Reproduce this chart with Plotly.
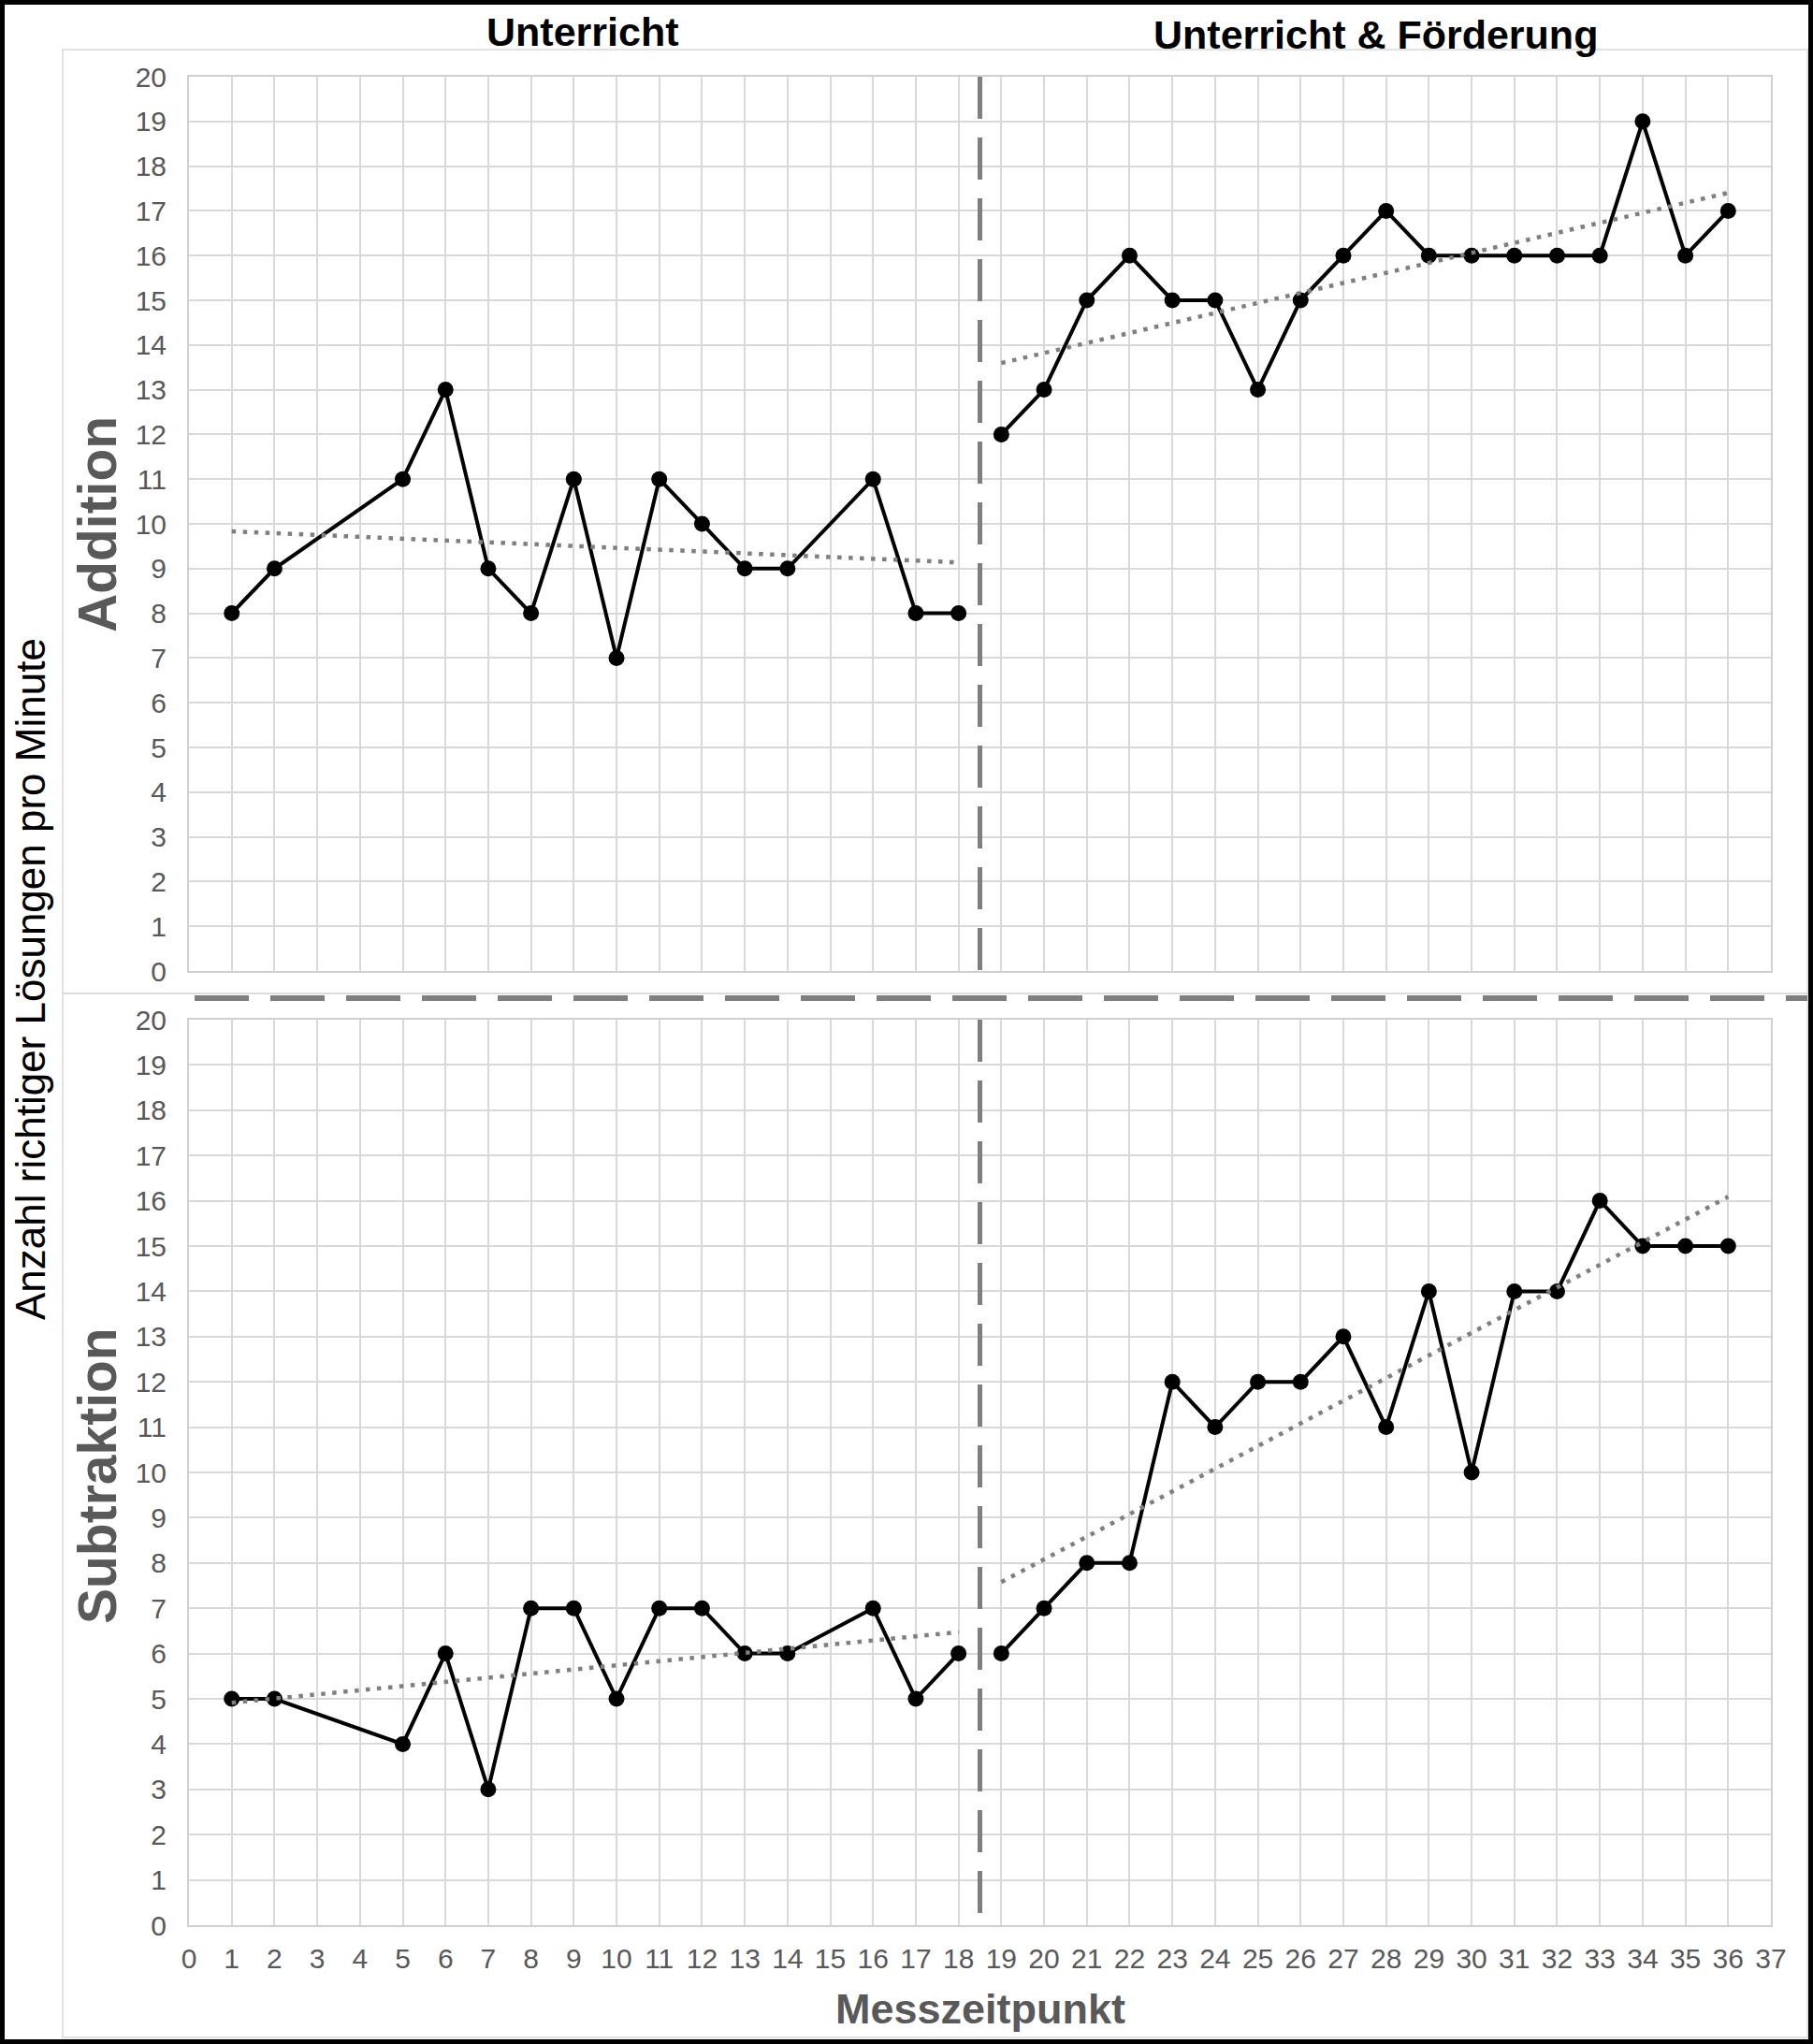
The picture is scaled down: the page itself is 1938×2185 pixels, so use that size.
import numpy as np
import plotly.graph_objects as go

W, H = 1938, 2185

# ---- data ----
phase1_x = [1, 2, 5, 6, 7, 8, 9, 10, 11, 12, 13, 14, 16, 17, 18]
phase2_x = [19, 20, 21, 22, 23, 24, 25, 26, 27, 28, 29, 30, 31, 32, 33, 34, 35, 36]

add_phase1 = [8, 9, 11, 13, 9, 8, 11, 7, 11, 10, 9, 9, 11, 8, 8]
add_phase2 = [12, 13, 15, 16, 15, 15, 13, 15, 16, 17, 16, 16, 16, 16, 16, 19, 16, 17]

sub_phase1 = [5, 5, 4, 6, 3, 7, 7, 5, 7, 7, 6, 6, 7, 5, 6]
sub_phase2 = [6, 7, 8, 8, 12, 11, 12, 12, 13, 11, 14, 10, 14, 14, 16, 15, 15, 15]

x_ticks = list(range(0, 38))
y_ticks = list(range(0, 21))
phase_titles = ["Unterricht", "Unterricht & Förderung"]
panel_titles = ["Addition", "Subtraktion"]
y_title = "Anzahl richtiger Lösungen pro Minute"
x_title = "Messzeitpunkt"
phase_change = 18.5


def px_x(p):
    return p / W


def px_y(p):
    return 1 - p / H


FONT = "Liberation Sans, Arial, sans-serif"
GRID = "#d9d9d9"
TICKC = "#595959"
GREY = "#7f7f7f"

fig = go.Figure()

panels = [
    ("x", "y", add_phase1, add_phase2),
    ("x2", "y2", sub_phase1, sub_phase2),
]

for xa, ya, p1, p2 in panels:
    for xs, ys in ((phase1_x, p1), (phase2_x, p2)):
        fig.add_trace(go.Scatter(
            x=xs, y=ys, xaxis=xa, yaxis=ya, mode="lines+markers",
            line=dict(color="black", width=4),
            marker=dict(color="black", size=17),
            showlegend=False, hoverinfo="skip"))
    for xs, ys in ((phase1_x, p1), (phase2_x, p2)):
        k, d = np.polyfit(xs, ys, 1)
        tx = [xs[0], xs[-1]]
        fig.add_trace(go.Scatter(
            x=tx, y=[k * t + d for t in tx], xaxis=xa, yaxis=ya, mode="lines",
            line=dict(color=GREY, width=4.5, dash="4.5px,7.5px"),
            showlegend=False, hoverinfo="skip"))

x_dom = [px_x(202), px_x(1893)]
axis_common = dict(
    showgrid=True, gridcolor=GRID, gridwidth=2,
    showline=True, linecolor="#d0d0d0", linewidth=2, mirror=True,
    zeroline=False, ticks="", automargin=False,
    tickfont=dict(family=FONT, size=30, color=TICKC),
)

fig.update_layout(
    width=W, height=H, autosize=False,
    margin=dict(l=0, r=0, t=0, b=0, pad=0, autoexpand=False),
    paper_bgcolor="white", plot_bgcolor="white",
    xaxis=dict(domain=x_dom, anchor="y", range=[0, 37], tickvals=x_ticks,
               showticklabels=False, **axis_common),
    yaxis=dict(domain=[px_y(1038), px_y(82)], anchor="x", range=[0, 20],
               tickvals=y_ticks, ticklabelstandoff=16, **axis_common),
    xaxis2=dict(domain=x_dom, anchor="y2", range=[0, 37], tickvals=x_ticks,
                ticklabelstandoff=8, **axis_common),
    yaxis2=dict(domain=[px_y(2058), px_y(1090)], anchor="x2", range=[0, 20],
                tickvals=y_ticks, ticklabelstandoff=16, **axis_common),
)

shapes = []
# outer black frame
shapes.append(dict(type="rect", xref="paper", yref="paper",
                   x0=px_x(2.5), x1=px_x(W - 2.5), y0=px_y(H - 2.5), y1=px_y(2.5),
                   line=dict(color="black", width=5), layer="above"))
# light chart-area boxes
shapes.append(dict(type="rect", xref="paper", yref="paper",
                   x0=px_x(67), x1=px_x(1932), y0=px_y(1062), y1=px_y(53),
                   line=dict(color="#d9d9d9", width=1.5), layer="below"))
shapes.append(dict(type="rect", xref="paper", yref="paper",
                   x0=px_x(67), x1=px_x(1932), y0=px_y(2178), y1=px_y(1062),
                   line=dict(color="#d9d9d9", width=1.5), layer="below"))
# phase-change vertical dashed lines
for xa, ya in (("x", "y"), ("x2", "y2")):
    shapes.append(dict(type="line", xref=xa, yref=ya,
                       x0=phase_change, x1=phase_change, y0=20, y1=0,
                       line=dict(color=GREY, width=5, dash="45px,20px"),
                       layer="above"))
# horizontal dashed separator
shapes.append(dict(type="line", xref="paper", yref="paper",
                   x0=px_x(208), x1=px_x(1932), y0=px_y(1067), y1=px_y(1067),
                   line=dict(color=GREY, width=6, dash="58px,23px"),
                   layer="above"))
fig.update_layout(shapes=shapes)

ann = []
ann.append(dict(text="<b>" + phase_titles[0] + "</b>", x=px_x(622), y=px_y(34),
                xref="paper", yref="paper", showarrow=False,
                font=dict(family=FONT, size=43, color="black"),
                xanchor="center", yanchor="middle"))
ann.append(dict(text="<b>" + phase_titles[1] + "</b>", x=px_x(1470), y=px_y(37),
                xref="paper", yref="paper", showarrow=False,
                font=dict(family=FONT, size=43, color="black"),
                xanchor="center", yanchor="middle"))
ann.append(dict(text="<b>" + panel_titles[0] + "</b>", x=px_x(104), y=px_y(561),
                xref="paper", yref="paper", showarrow=False, textangle=-90,
                font=dict(family=FONT, size=57, color=TICKC),
                xanchor="center", yanchor="middle"))
ann.append(dict(text="<b>" + panel_titles[1] + "</b>", x=px_x(104), y=px_y(1578),
                xref="paper", yref="paper", showarrow=False, textangle=-90,
                font=dict(family=FONT, size=57, color=TICKC),
                xanchor="center", yanchor="middle"))
ann.append(dict(text=y_title, x=px_x(33), y=px_y(1047), xref="paper", yref="paper",
                showarrow=False, textangle=-90,
                font=dict(family=FONT, size=44, color="black"),
                xanchor="center", yanchor="middle"))
ann.append(dict(text="<b>" + x_title + "</b>", x=px_x(1048), y=px_y(2147),
                xref="paper", yref="paper", showarrow=False,
                font=dict(family=FONT, size=45, color=TICKC),
                xanchor="center", yanchor="middle"))
fig.update_layout(annotations=ann)

fig.write_html(
    "out.html",
    config={"displayModeBar": False},
    post_script="document.body.style.margin='0';document.body.style.overflow='hidden';",
)
